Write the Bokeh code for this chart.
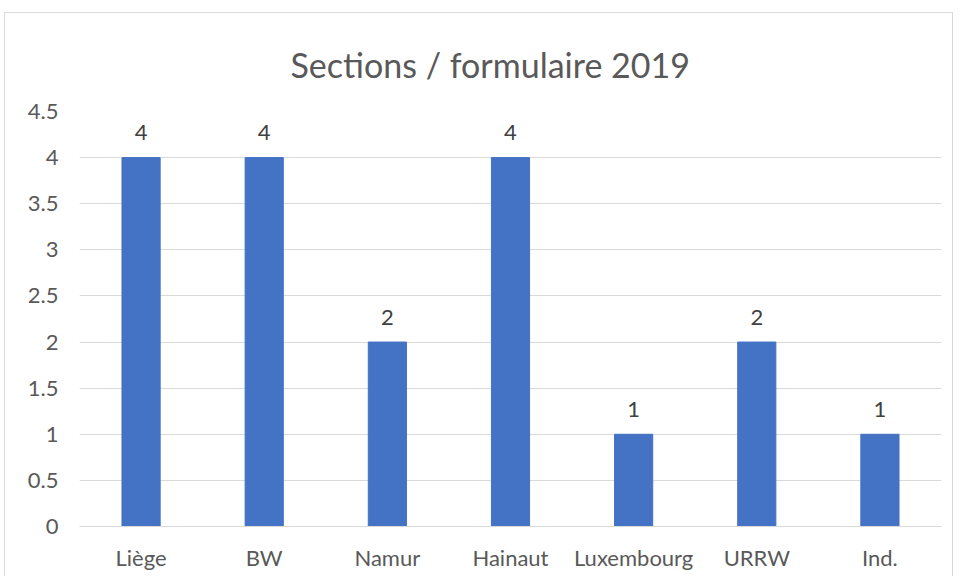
from bokeh.plotting import figure
from bokeh.models import ColumnDataSource, FixedTicker, Range1d
from bokeh.core.properties import value
from bokeh.embed import file_html
from bokeh.resources import INLINE

categories = ["Liège", "BW", "Namur", "Hainaut", "Luxembourg", "URRW", "Ind."]
counts = [4, 4, 2, 4, 1, 2, 1]
y_ticks = [0, 0.5, 1, 1.5, 2, 2.5, 3, 3.5, 4, 4.5]
y_tick_labels = ["0", "0.5", "1", "1.5", "2", "2.5", "3", "3.5", "4", "4.5"]
title_text = "Sections / formulaire 2019"

FONT = "Lato"
GREY = "#595959"

source = ColumnDataSource(dict(cat=categories, val=counts, lab=[str(v) for v in counts]))

p = figure(x_range=categories, y_range=Range1d(0, 4.5),
           frame_width=862, frame_height=415,
           min_border_left=74, min_border_right=11, min_border_top=98, min_border_bottom=50,
           output_backend="svg", toolbar_location=None, tools="",
           background_fill_color="white", border_fill_color="white",
           styles={"border": "1px solid #d9d9d9", "border-bottom": "none",
                   "margin-left": "4px", "margin-top": "12px"})
p.x_range.range_padding = 0

p.vbar(x="cat", top="val", width=0.31, source=source, color="#4472C4", line_color="#4472C4")
p.text(x="cat", y="val", text="lab", source=source, text_align="center", text_baseline="alphabetic",
       y_offset=-25, text_font=value(FONT), text_font_size="22px", text_color="#404040")

p.title.text = title_text
p.title.align = "left"
p.title.offset = 211
p.title.text_font = FONT
p.title.text_font_size = "34px"
p.title.text_font_style = "normal"
p.title.text_color = GREY
p.title.standoff = 53

p.outline_line_color = None
p.xgrid.grid_line_color = None
p.ygrid.grid_line_color = "#d9d9d9"
p.ygrid.grid_line_width = 1

p.yaxis.ticker = FixedTicker(ticks=y_ticks)
p.yaxis.major_label_overrides = {t: l for t, l in zip(y_ticks, y_tick_labels)}
p.yaxis.axis_line_color = None
p.yaxis.major_tick_line_color = None
p.yaxis.minor_tick_line_color = None
p.yaxis.major_label_standoff = 15
p.yaxis.major_label_text_font = FONT
p.yaxis.major_label_text_font_size = "22px"
p.yaxis.major_label_text_color = GREY

p.xaxis.axis_line_color = "#d9d9d9"
p.xaxis.major_tick_line_color = None
p.xaxis.minor_tick_line_color = None
p.xaxis.major_label_standoff = 11
p.xaxis.major_label_text_font = FONT
p.xaxis.major_label_text_font_size = "22px"
p.xaxis.major_label_text_color = GREY

open("out.html", "w").write(file_html(p, INLINE))
